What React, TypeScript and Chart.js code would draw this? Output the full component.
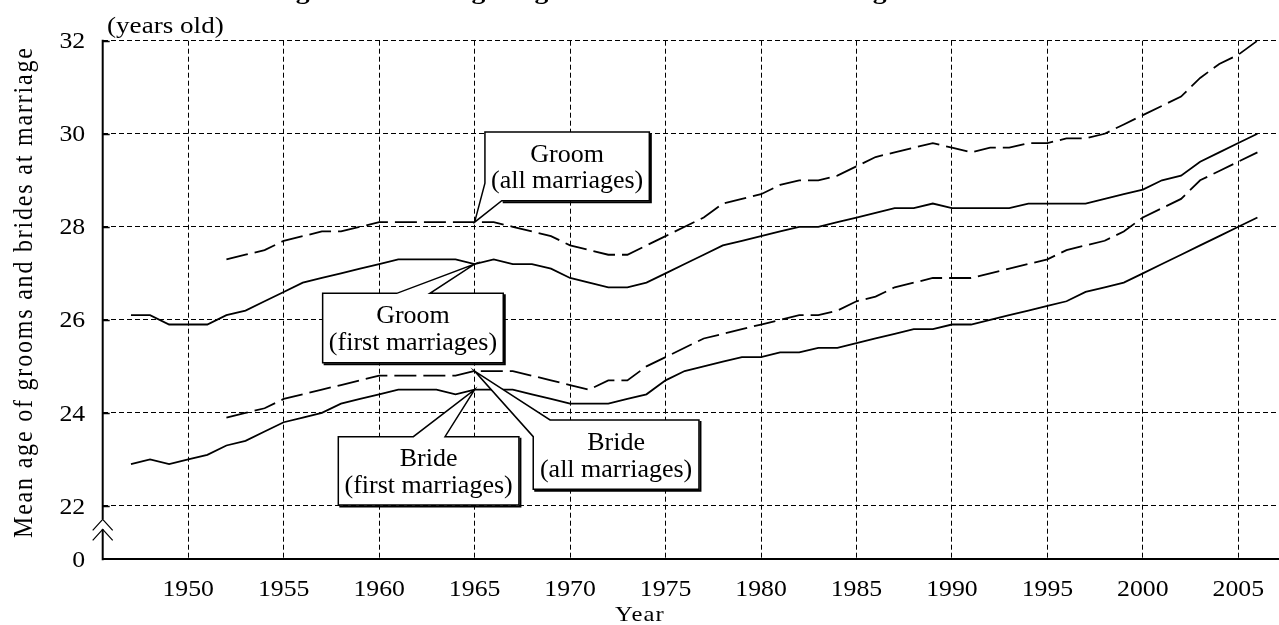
import React, { useEffect, useRef } from "react";
import { Chart, registerables } from "chart.js";

Chart.register(...registerables);

// ---------------- data ----------------
const years = [
  1947, 1948, 1949, 1950, 1951, 1952, 1953, 1954, 1955, 1956,
  1957, 1958, 1959, 1960, 1961, 1962, 1963, 1964, 1965, 1966,
  1967, 1968, 1969, 1970, 1971, 1972, 1973, 1974, 1975, 1976,
  1977, 1978, 1979, 1980, 1981, 1982, 1983, 1984, 1985, 1986,
  1987, 1988, 1989, 1990, 1991, 1992, 1993, 1994, 1995, 1996,
  1997, 1998, 1999, 2000, 2001, 2002, 2003, 2004, 2005, 2006,
];

const groomFirst = [
  26.1, 26.1, 25.9, 25.9, 25.9, 26.1, 26.2, 26.4, 26.6, 26.8,
  26.9, 27.0, 27.1, 27.2, 27.3, 27.3, 27.3, 27.3, 27.2, 27.3,
  27.2, 27.2, 27.1, 26.9, 26.8, 26.7, 26.7, 26.8, 27.0, 27.2,
  27.4, 27.6, 27.7, 27.8, 27.9, 28.0, 28.0, 28.1, 28.2, 28.3,
  28.4, 28.4, 28.5, 28.4, 28.4, 28.4, 28.4, 28.5, 28.5, 28.5,
  28.5, 28.6, 28.7, 28.8, 29.0, 29.1, 29.4, 29.6, 29.8, 30.0,
];

const brideFirst = [
  22.9, 23.0, 22.9, 23.0, 23.1, 23.3, 23.4, 23.6, 23.8, 23.9,
  24.0, 24.2, 24.3, 24.4, 24.5, 24.5, 24.5, 24.4, 24.5, 24.5,
  24.5, 24.4, 24.3, 24.2, 24.2, 24.2, 24.3, 24.4, 24.7, 24.9,
  25.0, 25.1, 25.2, 25.2, 25.3, 25.3, 25.4, 25.4, 25.5, 25.6,
  25.7, 25.8, 25.8, 25.9, 25.9, 26.0, 26.1, 26.2, 26.3, 26.4,
  26.6, 26.7, 26.8, 27.0, 27.2, 27.4, 27.6, 27.8, 28.0, 28.2,
];

const groomAll = [
  null, null, null, null, null, 27.3, 27.4, 27.5, 27.7, 27.8,
  27.9, 27.9, 28.0, 28.1, 28.1, 28.1, 28.1, 28.1, 28.1, 28.1,
  28.0, 27.9, 27.8, 27.6, 27.5, 27.4, 27.4, 27.6, 27.8, 28.0,
  28.2, 28.5, 28.6, 28.7, 28.9, 29.0, 29.0, 29.1, 29.3, 29.5,
  29.6, 29.7, 29.8, 29.7, 29.6, 29.7, 29.7, 29.8, 29.8, 29.9,
  29.9, 30.0, 30.2, 30.4, 30.6, 30.8, 31.2, 31.5, 31.7, 32.0,
];

const brideAll = [
  null, null, null, null, null, 23.9, 24.0, 24.1, 24.3, 24.4,
  24.5, 24.6, 24.7, 24.8, 24.8, 24.8, 24.8, 24.8, 24.9, 24.9,
  24.9, 24.8, 24.7, 24.6, 24.5, 24.7, 24.7, 25.0, 25.2, 25.4,
  25.6, 25.7, 25.8, 25.9, 26.0, 26.1, 26.1, 26.2, 26.4, 26.5,
  26.7, 26.8, 26.9, 26.9, 26.9, 27.0, 27.1, 27.2, 27.3, 27.5,
  27.6, 27.7, 27.9, 28.2, 28.4, 28.6, 29.0, 29.2, 29.4, 29.6,
];

const xTickYears = [1950, 1955, 1960, 1965, 1970, 1975, 1980, 1985, 1990, 1995, 2000, 2005];
const yTickValues = [22, 24, 26, 28, 30, 32];
const zeroLabel = "0";

const titleText = "Figure 1  Mean age of grooms and brides at marriage";
const yTitleText = "Mean age of grooms and brides at marriage";
const xTitleText = "Year";
const unitText = "(years old)";

// ---------------- layout / style config ----------------
const Y_BREAK_MIN = 20.854; // the broken axis: bottom edge is labelled "0"
const X_MIN = 1945.52;
const X_MAX = 2007.13;
const SERIF = '"Liberation Serif", "Times New Roman", Times, serif';

type Box = { x0: number; x1: number; y0: number; y1: number };
type P = [number, number] | "A";
const callouts: {
  lines: string[];
  series: (number | null)[];
  year: number;
  box: Box;
  outline: (b: Box) => P[];
}[] = [
  {
    lines: ["Groom", "(all marriages)"],
    series: groomAll,
    year: 1965,
    box: { x0: 1965.54, x1: 1974.15, y0: 30.04, y1: 28.56 },
    outline: (b) => [[b.x0, b.y0], [b.x1, b.y0], [b.x1, b.y1], [1966.42, b.y1], "A", [b.x0, 28.94]],
  },
  {
    lines: ["Groom", "(first marriages)"],
    series: groomFirst,
    year: 1965,
    box: { x0: 1957.04, x1: 1966.5, y0: 26.57, y1: 25.08 },
    outline: (b) => [[b.x0, b.y0], [1960.92, b.y0], "A", [1962.66, b.y0], [b.x1, b.y0], [b.x1, b.y1], [b.x0, b.y1]],
  },
  {
    lines: ["Bride", "(first marriages)"],
    series: brideFirst,
    year: 1965,
    box: { x0: 1957.86, x1: 1967.32, y0: 23.49, y1: 22.02 },
    outline: (b) => [[b.x0, b.y0], [1961.79, b.y0], "A", [1963.45, b.y0], [b.x1, b.y0], [b.x1, b.y1], [b.x0, b.y1]],
  },
  {
    lines: ["Bride", "(all marriages)"],
    series: brideAll,
    year: 1965,
    box: { x0: 1968.07, x1: 1976.75, y0: 23.85, y1: 22.36 },
    outline: (b) => [[1968.95, b.y0], [b.x1, b.y0], [b.x1, b.y1], [b.x0, b.y1], [b.x0, 23.49], "A"],
  },
];

type TextOpt = {
  size: number;
  bold?: boolean;
  align?: CanvasTextAlign;
  stretch?: number;
  spacing?: number;
  rotate?: boolean;
};

function drawText(ctx: CanvasRenderingContext2D, s: string, x: number, y: number, o: TextOpt) {
  ctx.save();
  ctx.translate(x, y);
  ctx.scale(o.stretch ?? 1, 1);
  if (o.rotate) ctx.rotate(-Math.PI / 2);
  ctx.font = `${o.bold ? "bold " : ""}${o.size}px ${SERIF}`;
  ctx.textAlign = o.align ?? "left";
  ctx.textBaseline = "alphabetic";
  ctx.fillStyle = "#000";
  if (o.spacing) (ctx as any).letterSpacing = `${o.spacing}px`;
  ctx.fillText(s, 0, 0);
  ctx.restore();
}

const overlayPlugin = {
  id: "overlay",
  afterDatasetsDraw(chart: any) {
    const ctx: CanvasRenderingContext2D = chart.ctx;
    const xs = chart.scales.x;
    const ys = chart.scales.y;
    const px = (v: number) => xs.getPixelForValue(v);
    const py = (v: number) => ys.getPixelForValue(v);

    for (const c of callouts) {
      const apexVal = c.series[years.indexOf(c.year)] as number;
      const raw = c.outline(c.box);
      const pts = raw.map((p) => (p === "A" ? [px(c.year), py(apexVal)] : [px(p[0]), py(p[1])]));

      ctx.save();
      ctx.lineJoin = "miter";
      ctx.beginPath();
      pts.forEach((p, i) => (i ? ctx.lineTo(p[0], p[1]) : ctx.moveTo(p[0], p[1])));
      ctx.closePath();
      ctx.fillStyle = "#fff";
      ctx.fill();
      ctx.strokeStyle = "#000";
      ctx.lineWidth = 1.5;
      ctx.stroke();

      // drop shadow on right and bottom edges only
      ctx.lineWidth = 2;
      ctx.lineCap = "square";
      ctx.beginPath();
      for (let i = 0; i < raw.length; i++) {
        const a = raw[i];
        const b = raw[(i + 1) % raw.length];
        if (a === "A" || b === "A") continue;
        const pa = pts[i];
        const pb = pts[(i + 1) % pts.length];
        if (a[0] === c.box.x1 && b[0] === c.box.x1) {
          ctx.moveTo(pa[0] + 1.5, Math.min(pa[1], pb[1]) + 2);
          ctx.lineTo(pa[0] + 1.5, Math.max(pa[1], pb[1]) + 1.5);
        } else if (a[1] === c.box.y1 && b[1] === c.box.y1) {
          ctx.moveTo(Math.min(pa[0], pb[0]) + 2, pa[1] + 1.5);
          ctx.lineTo(Math.max(pa[0], pb[0]) + 1.5, pa[1] + 1.5);
        }
      }
      ctx.stroke();
      ctx.restore();

      const l = px(c.box.x0), r = px(c.box.x1), t = py(c.box.y0), b = py(c.box.y1);
      const h = b - t;
      const cx = (l + r) / 2;
      drawText(ctx, c.lines[0], cx, t + 0.432 * h, { size: 25, align: "center", stretch: 1.04 });
      drawText(ctx, c.lines[1], cx, t + 0.818 * h, { size: 25, align: "center", stretch: 1.04 });
    }
  },
  afterDraw(chart: any) {
    const ctx: CanvasRenderingContext2D = chart.ctx;
    const xs = chart.scales.x;
    const ys = chart.scales.y;
    const area = chart.chartArea;
    const L = area.left;
    const B = area.bottom;

    // y axis line with scale break
    ctx.save();
    ctx.strokeStyle = "#000";
    ctx.lineWidth = 2;
    ctx.beginPath();
    ctx.moveTo(L, area.top - 1);
    ctx.lineTo(L, B - 40);
    ctx.moveTo(L, B - 30);
    ctx.lineTo(L, B + 1);
    ctx.stroke();
    // inner tick stubs
    ctx.lineWidth = 1.5;
    ctx.beginPath();
    for (const v of yTickValues) {
      const y = Math.round(ys.getPixelForValue(v)) + 0.5;
      ctx.moveTo(L, y);
      ctx.lineTo(L + 7, y);
    }
    ctx.stroke();
    // break chevrons
    ctx.lineWidth = 1.2;
    ctx.beginPath();
    ctx.moveTo(L - 10, B - 29);
    ctx.lineTo(L, B - 40);
    ctx.lineTo(L + 10, B - 29);
    ctx.moveTo(L - 10, B - 19);
    ctx.lineTo(L, B - 30);
    ctx.lineTo(L + 10, B - 19);
    ctx.stroke();
    ctx.restore();

    // y tick labels
    for (const v of yTickValues) {
      drawText(ctx, String(v), L - 17.5, ys.getPixelForValue(v) + 7.6, { size: 23, align: "right", stretch: 1.12 });
    }
    drawText(ctx, zeroLabel, L - 17.5, ys.getPixelForValue(Y_BREAK_MIN) + 7.6, { size: 23, align: "right", stretch: 1.12 });

    // x tick labels
    for (const v of xTickYears) {
      drawText(ctx, String(v), xs.getPixelForValue(v), B + 36.5, { size: 23, align: "center", stretch: 1.12 });
    }

    // axis titles and other text
    drawText(ctx, xTitleText, 640, 621, { size: 22, align: "center", stretch: 1.12, spacing: 1 });
    drawText(ctx, yTitleText, 31.5, 538, { size: 24, align: "left", stretch: 1.15, spacing: 1.8, rotate: true });
    drawText(ctx, unitText, 107, 33, { size: 24, align: "left", stretch: 1.13 });
    drawText(ctx, titleText, 585, -1, { size: 24, bold: true, align: "center", stretch: 1.15 });
  },
};

const toPts = (arr: (number | null)[]) => years.map((yr, i) => ({ x: yr, y: arr[i] }));

const lineStyle = {
  borderColor: "#000",
  backgroundColor: "#000",
  borderWidth: 1.8,
  pointRadius: 0,
  pointHoverRadius: 0,
  tension: 0,
  fill: false,
};

export default function App() {
  const ref = useRef<HTMLCanvasElement>(null);

  useEffect(() => {
    if (!ref.current) return;
    const chart = new Chart(ref.current, {
      type: "line",
      data: {
        datasets: [
          { label: "Groom (all marriages)", data: toPts(groomAll), ...lineStyle, borderDash: [22, 7] },
          { label: "Groom (first marriages)", data: toPts(groomFirst), ...lineStyle },
          { label: "Bride (all marriages)", data: toPts(brideAll), ...lineStyle, borderDash: [22, 7] },
          { label: "Bride (first marriages)", data: toPts(brideFirst), ...lineStyle },
        ] as any,
      },
      options: {
        responsive: false,
        animation: false,
        devicePixelRatio: 1,
        layout: { padding: { top: 40.7, left: 0, right: 0, bottom: 0 } },
        plugins: {
          legend: { display: false },
          tooltip: { enabled: false },
          title: { display: false },
        },
        scales: {
          x: {
            type: "linear",
            min: X_MIN,
            max: X_MAX,
            afterBuildTicks: (s: any) => {
              s.ticks = xTickYears.map((v) => ({ value: v }));
            },
            afterFit: (s: any) => {
              s.height = 65.7;
            },
            ticks: { display: false },
            grid: { color: "#000", lineWidth: 1, drawTicks: false },
            border: { display: true, color: "#000", width: 2, dash: [5, 3] },
          },
          y: {
            type: "linear",
            min: Y_BREAK_MIN,
            max: 32,
            afterBuildTicks: (s: any) => {
              s.ticks = yTickValues.map((v) => ({ value: v }));
            },
            afterFit: (s: any) => {
              s.width = 102.7;
            },
            ticks: { display: false },
            grid: { color: "#000", lineWidth: 1, drawTicks: false },
            border: { display: false, dash: [5, 3] },
          },
        },
      } as any,
      plugins: [overlayPlugin],
    });
    return () => chart.destroy();
  }, []);

  return (
    <div style={{ position: "fixed", left: 0, top: 0, width: 1279, height: 625, background: "#fff" }}>
      <canvas ref={ref} width={1279} height={625} style={{ display: "block", width: 1279, height: 625 }} />
    </div>
  );
}
